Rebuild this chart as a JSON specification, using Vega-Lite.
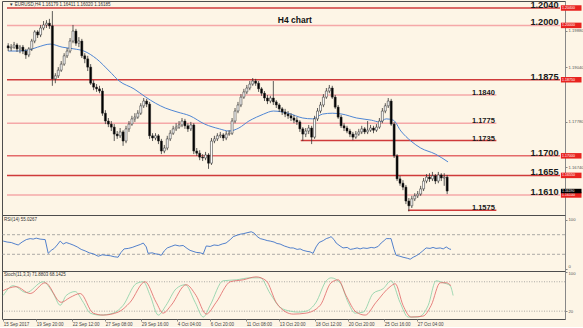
{
"$schema":"https://vega.github.io/schema/vega-lite/v6.json",
"background":"#fdf5e6",
"padding":0,
"spacing":0,
"bounds":"flush",
"resolve":{"scale":{"color":"independent","size":"independent"}},
"config":{"view":{"stroke":"#4d4d4d","strokeWidth":1},"font":"Liberation Sans","axis":{"grid":false,"title":null,"labelFont":"Liberation Sans","labelFontSize":4.2,"labelColor":"#555","tickSize":2,"tickColor":"#888","domainColor":"#888","labelPadding":1}},
"datasets":{
"candles":[
{"k":0,"o":1.1953,"h":1.1959,"l":1.1941,"c":1.1948},{"k":1,"o":1.1948,"h":1.1957,"l":1.1941,"c":1.1950},{"k":2,"o":1.1950,"h":1.1962,"l":1.1946,"c":1.1955},{"k":3,"o":1.1955,"h":1.1959,"l":1.1939,"c":1.1946},{"k":4,"o":1.1946,"h":1.1955,"l":1.1936,"c":1.1950},{"k":5,"o":1.1950,"h":1.1955,"l":1.1934,"c":1.1941},{"k":6,"o":1.1941,"h":1.1946,"l":1.1923,"c":1.1932},{"k":7,"o":1.1932,"h":1.1950,"l":1.1927,"c":1.1946},{"k":8,"o":1.1946,"h":1.1969,"l":1.1941,"c":1.1964},{"k":9,"o":1.1964,"h":1.1989,"l":1.1959,"c":1.1985},
{"k":10,"o":1.1985,"h":1.1989,"l":1.1971,"c":1.1978},{"k":11,"o":1.1978,"h":1.2001,"l":1.1973,"c":1.1994},{"k":12,"o":1.1994,"h":1.2010,"l":1.1989,"c":1.2001},{"k":13,"o":1.2001,"h":1.2012,"l":1.1994,"c":1.2005},{"k":14,"o":1.2005,"h":1.2015,"l":1.1992,"c":1.1999},{"k":15,"o":1.1999,"h":1.2033,"l":1.1861,"c":1.1877},{"k":16,"o":1.1877,"h":1.1890,"l":1.1867,"c":1.1884},{"k":17,"o":1.1884,"h":1.1904,"l":1.1879,"c":1.1897},{"k":18,"o":1.1897,"h":1.1918,"l":1.1893,"c":1.1911},{"k":19,"o":1.1911,"h":1.1936,"l":1.1907,"c":1.1930},
{"k":20,"o":1.1930,"h":1.1948,"l":1.1925,"c":1.1941},{"k":21,"o":1.1941,"h":1.1971,"l":1.1936,"c":1.1964},{"k":22,"o":1.1964,"h":1.2001,"l":1.1959,"c":1.1987},{"k":23,"o":1.1987,"h":1.1992,"l":1.1953,"c":1.1959},{"k":24,"o":1.1959,"h":1.1973,"l":1.1950,"c":1.1964},{"k":25,"o":1.1964,"h":1.1969,"l":1.1925,"c":1.1930},{"k":26,"o":1.1930,"h":1.1936,"l":1.1913,"c":1.1923},{"k":27,"o":1.1923,"h":1.1930,"l":1.1895,"c":1.1904},{"k":28,"o":1.1904,"h":1.1911,"l":1.1863,"c":1.1867},{"k":29,"o":1.1867,"h":1.1874,"l":1.1851,"c":1.1858},
{"k":30,"o":1.1858,"h":1.1865,"l":1.1847,"c":1.1854},{"k":31,"o":1.1854,"h":1.1861,"l":1.1844,"c":1.1849},{"k":32,"o":1.1849,"h":1.1856,"l":1.1792,"c":1.1798},{"k":33,"o":1.1798,"h":1.1805,"l":1.1773,"c":1.1780},{"k":34,"o":1.1780,"h":1.1787,"l":1.1766,"c":1.1773},{"k":35,"o":1.1773,"h":1.1780,"l":1.1757,"c":1.1766},{"k":36,"o":1.1766,"h":1.1773,"l":1.1734,"c":1.1750},{"k":37,"o":1.1750,"h":1.1757,"l":1.1739,"c":1.1746},{"k":38,"o":1.1746,"h":1.1764,"l":1.1741,"c":1.1755},{"k":39,"o":1.1755,"h":1.1759,"l":1.1723,"c":1.1734},
{"k":40,"o":1.1734,"h":1.1769,"l":1.1729,"c":1.1762},{"k":41,"o":1.1762,"h":1.1780,"l":1.1755,"c":1.1773},{"k":42,"o":1.1773,"h":1.1792,"l":1.1769,"c":1.1785},{"k":43,"o":1.1785,"h":1.1798,"l":1.1778,"c":1.1789},{"k":44,"o":1.1789,"h":1.1805,"l":1.1785,"c":1.1798},{"k":45,"o":1.1798,"h":1.1821,"l":1.1794,"c":1.1815},{"k":46,"o":1.1815,"h":1.1833,"l":1.1810,"c":1.1826},{"k":47,"o":1.1826,"h":1.1831,"l":1.1812,"c":1.1819},{"k":48,"o":1.1819,"h":1.1824,"l":1.1739,"c":1.1746},{"k":49,"o":1.1746,"h":1.1752,"l":1.1734,"c":1.1741},
{"k":50,"o":1.1741,"h":1.1752,"l":1.1736,"c":1.1746},{"k":51,"o":1.1746,"h":1.1750,"l":1.1727,"c":1.1734},{"k":52,"o":1.1734,"h":1.1739,"l":1.1704,"c":1.1711},{"k":53,"o":1.1711,"h":1.1725,"l":1.1706,"c":1.1718},{"k":54,"o":1.1718,"h":1.1746,"l":1.1713,"c":1.1739},{"k":55,"o":1.1739,"h":1.1759,"l":1.1734,"c":1.1752},{"k":56,"o":1.1752,"h":1.1769,"l":1.1748,"c":1.1762},{"k":57,"o":1.1762,"h":1.1775,"l":1.1757,"c":1.1766},{"k":58,"o":1.1766,"h":1.1780,"l":1.1762,"c":1.1771},{"k":59,"o":1.1771,"h":1.1787,"l":1.1766,"c":1.1780},
{"k":60,"o":1.1780,"h":1.1785,"l":1.1762,"c":1.1769},{"k":61,"o":1.1769,"h":1.1775,"l":1.1755,"c":1.1762},{"k":62,"o":1.1762,"h":1.1778,"l":1.1757,"c":1.1771},{"k":63,"o":1.1771,"h":1.1775,"l":1.1704,"c":1.1711},{"k":64,"o":1.1711,"h":1.1718,"l":1.1700,"c":1.1706},{"k":65,"o":1.1706,"h":1.1713,"l":1.1690,"c":1.1697},{"k":66,"o":1.1697,"h":1.1704,"l":1.1688,"c":1.1695},{"k":67,"o":1.1695,"h":1.1709,"l":1.1690,"c":1.1702},{"k":68,"o":1.1702,"h":1.1706,"l":1.1670,"c":1.1683},{"k":69,"o":1.1683,"h":1.1741,"l":1.1679,"c":1.1734},
{"k":70,"o":1.1734,"h":1.1746,"l":1.1729,"c":1.1739},{"k":71,"o":1.1739,"h":1.1752,"l":1.1734,"c":1.1746},{"k":72,"o":1.1746,"h":1.1755,"l":1.1741,"c":1.1748},{"k":73,"o":1.1748,"h":1.1752,"l":1.1734,"c":1.1741},{"k":74,"o":1.1741,"h":1.1757,"l":1.1736,"c":1.1750},{"k":75,"o":1.1750,"h":1.1759,"l":1.1746,"c":1.1752},{"k":76,"o":1.1752,"h":1.1787,"l":1.1748,"c":1.1780},{"k":77,"o":1.1780,"h":1.1810,"l":1.1775,"c":1.1803},{"k":78,"o":1.1803,"h":1.1824,"l":1.1798,"c":1.1817},{"k":79,"o":1.1817,"h":1.1842,"l":1.1812,"c":1.1835},
{"k":80,"o":1.1835,"h":1.1854,"l":1.1831,"c":1.1847},{"k":81,"o":1.1847,"h":1.1863,"l":1.1842,"c":1.1856},{"k":82,"o":1.1856,"h":1.1872,"l":1.1851,"c":1.1865},{"k":83,"o":1.1865,"h":1.1879,"l":1.1861,"c":1.1872},{"k":84,"o":1.1872,"h":1.1877,"l":1.1861,"c":1.1867},{"k":85,"o":1.1867,"h":1.1872,"l":1.1847,"c":1.1854},{"k":86,"o":1.1854,"h":1.1858,"l":1.1838,"c":1.1844},{"k":87,"o":1.1844,"h":1.1849,"l":1.1826,"c":1.1833},{"k":88,"o":1.1833,"h":1.1840,"l":1.1819,"c":1.1826},{"k":89,"o":1.1826,"h":1.1838,"l":1.1821,"c":1.1833},
{"k":90,"o":1.1833,"h":1.1872,"l":1.1817,"c":1.1824},{"k":91,"o":1.1824,"h":1.1828,"l":1.1810,"c":1.1817},{"k":92,"o":1.1817,"h":1.1821,"l":1.1801,"c":1.1808},{"k":93,"o":1.1808,"h":1.1812,"l":1.1794,"c":1.1801},{"k":94,"o":1.1801,"h":1.1808,"l":1.1789,"c":1.1796},{"k":95,"o":1.1796,"h":1.1803,"l":1.1785,"c":1.1792},{"k":96,"o":1.1792,"h":1.1798,"l":1.1780,"c":1.1787},{"k":97,"o":1.1787,"h":1.1794,"l":1.1775,"c":1.1782},{"k":98,"o":1.1782,"h":1.1789,"l":1.1771,"c":1.1778},{"k":99,"o":1.1778,"h":1.1782,"l":1.1755,"c":1.1762},
{"k":100,"o":1.1762,"h":1.1766,"l":1.1734,"c":1.1750},{"k":101,"o":1.1750,"h":1.1764,"l":1.1743,"c":1.1757},{"k":102,"o":1.1757,"h":1.1771,"l":1.1750,"c":1.1764},{"k":103,"o":1.1764,"h":1.1769,"l":1.1727,"c":1.1743},{"k":104,"o":1.1743,"h":1.1792,"l":1.1739,"c":1.1785},{"k":105,"o":1.1785,"h":1.1810,"l":1.1780,"c":1.1803},{"k":106,"o":1.1803,"h":1.1824,"l":1.1798,"c":1.1817},{"k":107,"o":1.1817,"h":1.1842,"l":1.1812,"c":1.1835},{"k":108,"o":1.1835,"h":1.1856,"l":1.1831,"c":1.1849},{"k":109,"o":1.1849,"h":1.1863,"l":1.1844,"c":1.1856},
{"k":110,"o":1.1856,"h":1.1861,"l":1.1831,"c":1.1835},{"k":111,"o":1.1835,"h":1.1840,"l":1.1808,"c":1.1812},{"k":112,"o":1.1812,"h":1.1817,"l":1.1785,"c":1.1789},{"k":113,"o":1.1789,"h":1.1794,"l":1.1764,"c":1.1769},{"k":114,"o":1.1769,"h":1.1775,"l":1.1757,"c":1.1764},{"k":115,"o":1.1764,"h":1.1769,"l":1.1752,"c":1.1757},{"k":116,"o":1.1757,"h":1.1762,"l":1.1743,"c":1.1750},{"k":117,"o":1.1750,"h":1.1755,"l":1.1736,"c":1.1743},{"k":118,"o":1.1743,"h":1.1757,"l":1.1739,"c":1.1750},{"k":119,"o":1.1750,"h":1.1762,"l":1.1746,"c":1.1755},
{"k":120,"o":1.1755,"h":1.1769,"l":1.1750,"c":1.1762},{"k":121,"o":1.1762,"h":1.1766,"l":1.1750,"c":1.1755},{"k":122,"o":1.1755,"h":1.1780,"l":1.1750,"c":1.1759},{"k":123,"o":1.1759,"h":1.1771,"l":1.1755,"c":1.1764},{"k":124,"o":1.1764,"h":1.1769,"l":1.1752,"c":1.1759},{"k":125,"o":1.1759,"h":1.1773,"l":1.1755,"c":1.1766},{"k":126,"o":1.1766,"h":1.1787,"l":1.1762,"c":1.1780},{"k":127,"o":1.1780,"h":1.1810,"l":1.1775,"c":1.1803},{"k":128,"o":1.1803,"h":1.1821,"l":1.1798,"c":1.1815},{"k":129,"o":1.1815,"h":1.1833,"l":1.1810,"c":1.1826},
{"k":130,"o":1.1826,"h":1.1831,"l":1.1769,"c":1.1773},{"k":131,"o":1.1773,"h":1.1778,"l":1.1695,"c":1.1700},{"k":132,"o":1.1700,"h":1.1704,"l":1.1642,"c":1.1647},{"k":133,"o":1.1647,"h":1.1654,"l":1.1631,"c":1.1637},{"k":134,"o":1.1637,"h":1.1644,"l":1.1621,"c":1.1628},{"k":135,"o":1.1628,"h":1.1633,"l":1.1589,"c":1.1596},{"k":136,"o":1.1596,"h":1.1603,"l":1.1572,"c":1.1585},{"k":137,"o":1.1585,"h":1.1608,"l":1.1580,"c":1.1601},{"k":138,"o":1.1601,"h":1.1614,"l":1.1596,"c":1.1608},{"k":139,"o":1.1608,"h":1.1619,"l":1.1603,"c":1.1612},
{"k":140,"o":1.1612,"h":1.1631,"l":1.1608,"c":1.1624},{"k":141,"o":1.1624,"h":1.1649,"l":1.1619,"c":1.1642},{"k":142,"o":1.1642,"h":1.1658,"l":1.1637,"c":1.1651},{"k":143,"o":1.1651,"h":1.1660,"l":1.1640,"c":1.1647},{"k":144,"o":1.1647,"h":1.1663,"l":1.1642,"c":1.1654},{"k":145,"o":1.1654,"h":1.1658,"l":1.1635,"c":1.1642},{"k":146,"o":1.1642,"h":1.1663,"l":1.1637,"c":1.1656},{"k":147,"o":1.1656,"h":1.1660,"l":1.1642,"c":1.1649},{"k":148,"o":1.1649,"h":1.1660,"l":1.1631,"c":1.1651},{"k":149,"o":1.1651,"h":1.1656,"l":1.1612,"c":1.1619}
],
"ma":[
{"t":0,"p":1.1941},{"t":3.3,"p":1.1941},{"t":6.7,"p":1.1943},{"t":10,"p":1.1950},{"t":14.3,"p":1.1957},{"t":18.3,"p":1.1950},{"t":22.3,"p":1.1946},{"t":25.7,"p":1.1941},{"t":30,"p":1.1923},{"t":34.3,"p":1.1895},{"t":37.7,"p":1.1872},{"t":42.7,"p":1.1854},{"t":46.7,"p":1.1835},{"t":50,"p":1.1821},{"t":53.3,"p":1.1810},{"t":57.3,"p":1.1801},{"t":61.7,"p":1.1792},{"t":66.7,"p":1.1773},{"t":71.7,"p":1.1762},{"t":75,"p":1.1757},{"t":78.3,"p":1.1764},{"t":81.7,"p":1.1780},{"t":84.3,"p":1.1789},{"t":86.7,"p":1.1796},{"t":90,"p":1.1803},{"t":95,"p":1.1798},{"t":100,"p":1.1787},{"t":103.3,"p":1.1785},{"t":106.7,"p":1.1796},{"t":110,"p":1.1798},{"t":113.3,"p":1.1796},{"t":118.3,"p":1.1787},{"t":123.3,"p":1.1782},{"t":126,"p":1.1778},{"t":128.3,"p":1.1785},{"t":130.7,"p":1.1782},{"t":133.3,"p":1.1757},{"t":136.7,"p":1.1734},{"t":140,"p":1.1718},{"t":145,"p":1.1704},{"t":149.3,"p":1.1686}
],
"levels":[
{"p":1.2040,"from":-0.4,"to":187.3,"kind":"strong","tag":"main"},
{"p":1.2000,"from":-0.4,"to":187.3,"kind":"weak","tag":"main"},
{"p":1.1875,"from":-0.4,"to":187.3,"kind":"strong","tag":"main"},
{"p":1.1840,"from":-0.4,"to":165.7,"kind":"weak","tag":"sub"},
{"p":1.1775,"from":-0.4,"to":165.7,"kind":"weak","tag":"sub"},
{"p":1.1735,"from":99.3,"to":165.7,"kind":"strong","tag":"sub"},
{"p":1.1700,"from":-0.4,"to":187.3,"kind":"mid","tag":"main"},
{"p":1.1655,"from":-0.4,"to":187.3,"kind":"strong","tag":"main"},
{"p":1.1610,"from":-0.4,"to":187.3,"kind":"weak","tag":"main"},
{"p":1.1575,"from":135.7,"to":165.7,"kind":"strong","tag":"sub"}
],
"rsi":[
{"t":0,"v":57},{"t":1.3,"v":55},{"t":2.7,"v":54},{"t":4,"v":51},{"t":5,"v":49},{"t":6.3,"v":55},{"t":7.7,"v":60},{"t":9,"v":62},{"t":10,"v":61},{"t":11,"v":63},{"t":12.3,"v":61},{"t":14,"v":60},{"t":15,"v":32},{"t":16,"v":38},{"t":17,"v":42},{"t":18,"v":49},{"t":19,"v":57},{"t":20,"v":51},{"t":21,"v":54},{"t":22,"v":52},{"t":23.3,"v":49},{"t":24.7,"v":45},{"t":26,"v":40},{"t":27.3,"v":37},{"t":28.7,"v":33},{"t":30,"v":31},{"t":31.7,"v":26},{"t":33,"v":29},{"t":34.3,"v":28},{"t":35.7,"v":27},{"t":37,"v":25},{"t":38.3,"v":24},{"t":39.3,"v":34},{"t":40.3,"v":41},{"t":41.7,"v":42},{"t":43,"v":44},{"t":44.3,"v":47},{"t":45.7,"v":50},{"t":46.7,"v":53},{"t":47.7,"v":45},{"t":48.3,"v":32},{"t":49.7,"v":33},{"t":50.7,"v":31},{"t":51.7,"v":30},{"t":52.7,"v":28},{"t":53.7,"v":37},{"t":54.7,"v":43},{"t":56,"v":46},{"t":57.3,"v":49},{"t":58.7,"v":47},{"t":60,"v":48},{"t":61.3,"v":42},{"t":62.3,"v":38},{"t":63.3,"v":36},{"t":64.3,"v":34},{"t":65.7,"v":33},{"t":66.7,"v":31},{"t":67.7,"v":47},{"t":69,"v":46},{"t":70.3,"v":49},{"t":71.7,"v":48},{"t":73,"v":51},{"t":74.3,"v":53},{"t":75.7,"v":60},{"t":76.7,"v":66},{"t":78,"v":69},{"t":79,"v":71},{"t":80,"v":72},{"t":81.3,"v":74},{"t":82.7,"v":76},{"t":83.7,"v":73},{"t":84.7,"v":66},{"t":85.7,"v":62},{"t":87,"v":60},{"t":88,"v":58},{"t":89,"v":57},{"t":90.3,"v":55},{"t":91.3,"v":52},{"t":92.3,"v":51},{"t":93.7,"v":47},{"t":94.7,"v":45},{"t":95.7,"v":43},{"t":96.7,"v":43},{"t":98,"v":40},{"t":99,"v":41},{"t":100,"v":38},{"t":101.3,"v":36},{"t":102.3,"v":35},{"t":103.3,"v":32},{"t":104.3,"v":45},{"t":105.3,"v":54},{"t":106.7,"v":58},{"t":107.7,"v":62},{"t":108.7,"v":64},{"t":109.3,"v":66},{"t":110.3,"v":60},{"t":111,"v":53},{"t":112.3,"v":47},{"t":113.3,"v":43},{"t":114.7,"v":44},{"t":115.7,"v":40},{"t":116.7,"v":41},{"t":118,"v":43},{"t":119,"v":41},{"t":120,"v":43},{"t":121.3,"v":42},{"t":122.7,"v":44},{"t":123.7,"v":43},{"t":125,"v":46},{"t":126,"v":53},{"t":127,"v":58},{"t":127.7,"v":62},{"t":128.7,"v":62},{"t":129.3,"v":62},{"t":130.3,"v":40},{"t":131,"v":28},{"t":132.3,"v":26},{"t":133.3,"v":24},{"t":134.7,"v":22},{"t":135.7,"v":20},{"t":136.7,"v":24},{"t":137.7,"v":27},{"t":138.7,"v":31},{"t":139.7,"v":36},{"t":141,"v":43},{"t":142.3,"v":42},{"t":143.3,"v":44},{"t":144.3,"v":42},{"t":145.7,"v":43},{"t":146.7,"v":41},{"t":147.7,"v":45},{"t":148.7,"v":41},{"t":149.3,"v":40}
],
"stoch":[
{"t":0,"v":52,"s":"K"},{"t":3.3,"v":72,"s":"K"},{"t":7.7,"v":58,"s":"K"},{"t":13.3,"v":80,"s":"K"},{"t":16.7,"v":56,"s":"K"},{"t":19,"v":32,"s":"K"},{"t":21,"v":52,"s":"K"},{"t":24,"v":60,"s":"K"},{"t":26.7,"v":38,"s":"K"},{"t":29,"v":16,"s":"K"},{"t":32.3,"v":12,"s":"K"},{"t":36.7,"v":16,"s":"K"},{"t":40,"v":32,"s":"K"},{"t":44.3,"v":76,"s":"K"},{"t":46.7,"v":80,"s":"K"},{"t":49,"v":52,"s":"K"},{"t":51.7,"v":12,"s":"K"},{"t":54.3,"v":32,"s":"K"},{"t":57.7,"v":66,"s":"K"},{"t":60.7,"v":74,"s":"K"},{"t":64,"v":38,"s":"K"},{"t":66.7,"v":8,"s":"K"},{"t":69,"v":32,"s":"K"},{"t":73.3,"v":82,"s":"K"},{"t":77.7,"v":84,"s":"K"},{"t":82.3,"v":88,"s":"K"},{"t":85.7,"v":88,"s":"K"},{"t":89,"v":56,"s":"K"},{"t":92.3,"v":28,"s":"K"},{"t":95.7,"v":20,"s":"K"},{"t":98.3,"v":18,"s":"K"},{"t":101,"v":20,"s":"K"},{"t":104.3,"v":38,"s":"K"},{"t":107.7,"v":82,"s":"K"},{"t":109.3,"v":88,"s":"K"},{"t":112.3,"v":78,"s":"K"},{"t":115,"v":38,"s":"K"},{"t":117.3,"v":16,"s":"K"},{"t":120,"v":18,"s":"K"},{"t":123.3,"v":56,"s":"K"},{"t":126.7,"v":66,"s":"K"},{"t":129.3,"v":82,"s":"K"},{"t":132.3,"v":38,"s":"K"},{"t":135,"v":8,"s":"K"},{"t":138.3,"v":8,"s":"K"},{"t":141.7,"v":32,"s":"K"},{"t":144.3,"v":82,"s":"K"},{"t":146.7,"v":78,"s":"K"},{"t":149,"v":72,"s":"K"},{"t":150,"v":52,"s":"K"},
{"t":0,"v":62,"s":"D"},{"t":4.3,"v":70,"s":"D"},{"t":9,"v":56,"s":"D"},{"t":14,"v":78,"s":"D"},{"t":19.3,"v":38,"s":"D"},{"t":22.3,"v":48,"s":"D"},{"t":25.7,"v":56,"s":"D"},{"t":30,"v":16,"s":"D"},{"t":33.3,"v":12,"s":"D"},{"t":38.3,"v":18,"s":"D"},{"t":42.3,"v":38,"s":"D"},{"t":47.3,"v":80,"s":"D"},{"t":51,"v":38,"s":"D"},{"t":53.3,"v":16,"s":"D"},{"t":56,"v":32,"s":"D"},{"t":61,"v":74,"s":"D"},{"t":64.3,"v":52,"s":"D"},{"t":67.7,"v":14,"s":"D"},{"t":71,"v":38,"s":"D"},{"t":75.7,"v":80,"s":"D"},{"t":80,"v":84,"s":"D"},{"t":84.3,"v":90,"s":"D"},{"t":87.7,"v":82,"s":"D"},{"t":91,"v":38,"s":"D"},{"t":94.3,"v":18,"s":"D"},{"t":96.7,"v":14,"s":"D"},{"t":101,"v":16,"s":"D"},{"t":105.7,"v":32,"s":"D"},{"t":109.3,"v":78,"s":"D"},{"t":111.7,"v":84,"s":"D"},{"t":114.3,"v":52,"s":"D"},{"t":117.7,"v":18,"s":"D"},{"t":120.7,"v":12,"s":"D"},{"t":124.3,"v":38,"s":"D"},{"t":129,"v":70,"s":"D"},{"t":130.7,"v":76,"s":"D"},{"t":133.3,"v":32,"s":"D"},{"t":136,"v":8,"s":"D"},{"t":140,"v":10,"s":"D"},{"t":142.7,"v":32,"s":"D"},{"t":145.7,"v":78,"s":"D"},{"t":147.7,"v":78,"s":"D"},{"t":149.3,"v":72,"s":"D"}
]
},
"vconcat":[
{
"width":563,"height":214,
"layer":[
{"data":{"name":"levels"},"mark":{"type":"rule","strokeWidth":1.5},"encoding":{"x":{"field":"from","type":"quantitative","scale":{"domain":[-0.4,187.3],"nice":false,"zero":false},"axis":null},"x2":{"field":"to"},"y":{"field":"p","type":"quantitative","scale":{"domain":[1.15639,1.20561],"nice":false,"zero":false},"axis":{"orient":"right","values":[1.2030,1.1988,1.1946,1.1904,1.1820,1.1778,1.1736,1.1674],"format":".5f"}},"color":{"field":"kind","type":"nominal","scale":{"domain":["strong","mid","weak"],"range":["#cf3a3a","#e46a6a","#f5a8a8"]},"legend":null}}},
{"data":{"name":"ma"},"mark":{"type":"line","color":"#4f86d4","strokeWidth":1,"interpolate":"monotone"},"encoding":{"x":{"field":"t","type":"quantitative"},"y":{"field":"p","type":"quantitative"}}},
{"data":{"name":"candles"},"mark":{"type":"rule","color":"#333333","strokeWidth":0.8},"encoding":{"x":{"field":"k","type":"quantitative"},"y":{"field":"l","type":"quantitative"},"y2":{"field":"h"}}},
{"data":{"name":"candles"},"mark":{"type":"bar","size":2,"stroke":"#222222","strokeWidth":0.5},"encoding":{"x":{"field":"k","type":"quantitative"},"y":{"field":"o","type":"quantitative"},"y2":{"field":"c"},"fill":{"condition":{"test":"datum.c < datum.o","value":"#000000"},"value":"#ffffff"}}},
{"data":{"name":"levels"},"mark":{"type":"text","align":"right","baseline":"alphabetic","dy":0,"dx":-1.5,"fontWeight":"bold","color":"#1a1a1a"},"encoding":{"x":{"field":"to","type":"quantitative"},"y":{"field":"p","type":"quantitative"},"text":{"field":"p","type":"quantitative","format":".4f"},"size":{"field":"tag","type":"nominal","scale":{"domain":["main","sub"],"range":[9.2,7.5]},"legend":null}}},
{"data":{"name":"levels"},"transform":[{"filter":"datum.tag == 'main'"}],"mark":{"type":"rule","strokeWidth":5.5,"color":"#e8231f","strokeCap":"butt"},"encoding":{"x":{"datum":187.6,"type":"quantitative"},"x2":{"datum":194.6},"y":{"field":"p","type":"quantitative"}}},
{"data":{"name":"levels"},"transform":[{"filter":"datum.tag == 'main'"}],"mark":{"type":"text","color":"#ffffff","fontSize":3.6,"align":"left","baseline":"middle"},"encoding":{"x":{"datum":188,"type":"quantitative"},"y":{"field":"p","type":"quantitative"},"text":{"field":"p","type":"quantitative","format":".5f"}}},
{"data":{"name":"candles"},"transform":[{"filter":"datum.k == 149"}],"mark":{"type":"rule","strokeWidth":4.5,"color":"#000000","strokeCap":"butt"},"encoding":{"x":{"datum":187.6,"type":"quantitative"},"x2":{"datum":194.6},"y":{"field":"c","type":"quantitative"}}},
{"data":{"name":"candles"},"transform":[{"filter":"datum.k == 149"}],"mark":{"type":"text","color":"#ffffff","fontSize":3.4,"align":"left","baseline":"middle","dy":-0.5},"encoding":{"x":{"datum":188,"type":"quantitative"},"y":{"field":"c","type":"quantitative"},"text":{"field":"c","type":"quantitative","format":".5f"}}},
{"data":{"values":[{"txt":"H4 chart"}]},"mark":{"type":"text","fontWeight":"bold","fontSize":8.5,"color":"#111111","align":"center","baseline":"middle"},"encoding":{"x":{"datum":97.3,"type":"quantitative"},"y":{"datum":1.2012,"type":"quantitative"},"text":{"field":"txt"}}},
{"data":{"values":[{"txt":"▼ EURUSD,H4  1.16179 1.16411 1.16020 1.16185"}]},"mark":{"type":"text","fontSize":4.5,"color":"#333333","align":"left","baseline":"middle"},"encoding":{"x":{"datum":0.3,"type":"quantitative"},"y":{"datum":1.2046,"type":"quantitative"},"text":{"field":"txt"}}}
]
},
{
"width":563,"height":56,
"layer":[
{"data":{"values":[{"v":30},{"v":70}]},"mark":{"type":"rule","color":"#8a8a8a","strokeWidth":0.7,"strokeDash":[3,2]},"encoding":{"y":{"field":"v","type":"quantitative","scale":{"domain":[-4.1,110.2],"nice":false,"zero":false},"axis":{"orient":"right","values":[0,30,70,100],"format":"d","labelFlush":4}}}},
{"data":{"name":"rsi"},"mark":{"type":"line","color":"#3e73c8","strokeWidth":0.9},"encoding":{"x":{"field":"t","type":"quantitative","scale":{"domain":[-0.4,187.3],"nice":false,"zero":false},"axis":null},"y":{"field":"v","type":"quantitative"}}},
{"data":{"values":[{"txt":"RSI(14) 55.0267"}]},"mark":{"type":"text","align":"left","baseline":"middle","fontSize":4.5,"color":"#333333"},"encoding":{"x":{"datum":0.3,"type":"quantitative"},"y":{"datum":99,"type":"quantitative"},"text":{"field":"txt"}}}
]
},
{
"width":563,"height":48,
"layer":[
{"data":{"values":[{"v":20},{"v":80}]},"mark":{"type":"rule","color":"#8a8a8a","strokeWidth":0.7,"strokeDash":[1,1.5]},"encoding":{"y":{"field":"v","type":"quantitative","scale":{"domain":[4,102],"nice":false,"zero":false},"axis":{"orient":"right","values":[0,20,80,100],"format":"d","labelFlush":4}}}},
{"data":{"name":"stoch"},"mark":{"type":"line","strokeWidth":0.8,"interpolate":"monotone"},"encoding":{"x":{"field":"t","type":"quantitative","scale":{"domain":[-0.4,187.3],"nice":false,"zero":false},"axis":{"orient":"bottom","values":[0,11,23,34,46,58,69,81,92,104,115,127,138],"labelExpr":"datum.value == 0 ? '15 Sep 2017' : datum.value == 11 ? '19 Sep 20:00' : datum.value == 23 ? '22 Sep 12:00' : datum.value == 34 ? '27 Sep 08:00' : datum.value == 46 ? '29 Sep 16:00' : datum.value == 58 ? '4 Oct 04:00' : datum.value == 69 ? '6 Oct 20:00' : datum.value == 81 ? '11 Oct 08:00' : datum.value == 92 ? '13 Oct 20:00' : datum.value == 104 ? '18 Oct 12:00' : datum.value == 115 ? '20 Oct 20:00' : datum.value == 127 ? '25 Oct 16:00' : '27 Oct 04:00'","labelAlign":"left","labelFontSize":4.5,"labelColor":"#444444","labelPadding":0.5,"tickSize":2,"domain":false,"labelOverlap":false,"labelFlush":false}},"y":{"field":"v","type":"quantitative"},"color":{"field":"s","type":"nominal","scale":{"domain":["K","D"],"range":["#86cfa4","#e06464"]},"legend":null}}},
{"data":{"values":[{"txt":"Stoch(11,3,3) 71.8803 68.1425"}]},"mark":{"type":"text","align":"left","baseline":"middle","fontSize":4.5,"color":"#333333"},"encoding":{"x":{"datum":0.3,"type":"quantitative"},"y":{"datum":94,"type":"quantitative"},"text":{"field":"txt"}}}
]
}
]
}
